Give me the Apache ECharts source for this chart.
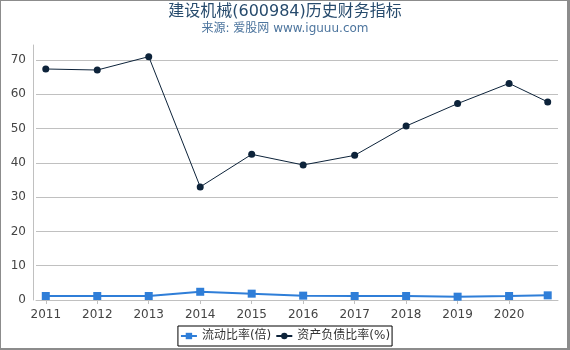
<!DOCTYPE html>
<html>
<head>
<meta charset="utf-8">
<script src="https://cdn.jsdelivr.net/npm/echarts@6/dist/echarts.min.js"></script>
<style>
html,body{margin:0;padding:0;background:#fff;}
#chart{position:absolute;left:0;top:0;width:570px;height:350px;}
#frame{position:absolute;left:0;top:0;width:570px;height:350px;box-sizing:border-box;
  border-top:1px solid #8c8c8c;border-left:1px solid #8c8c8c;border-right:3px solid #8c8c8c;border-bottom:2px solid #8c8c8c;pointer-events:none;}
</style>
</head>
<body>
<div id="chart"></div>
<div id="frame"></div>
<script>
const titleText = '建设机械(600984)历史财务指标';
const subtitleText = '来源: 爱股网 www.iguuu.com';
const seriesNames = ['流动比率(倍)', '资产负债比率(%)'];
// x positions: years, last point is 2021 Q3 (placed 3/4 of a year after 2020)
const xValues = [2011, 2012, 2013, 2014, 2015, 2016, 2017, 2018, 2019, 2020, 2020.75];
const currentRatio = [1.17, 1.17, 1.17, 2.4, 1.85, 1.27, 1.17, 1.17, 0.97, 1.17, 1.36];
const debtRatio = [67.4, 67.1, 71.0, 33.0, 42.5, 39.4, 42.2, 50.75, 57.3, 63.2, 57.8];
const xTickLabels = [2011, 2012, 2013, 2014, 2015, 2016, 2017, 2018, 2019, 2020];
const yTickLabels = [0, 10, 20, 30, 40, 50, 60, 70];

const font = '"DejaVu Sans", "Noto Sans CJK SC", sans-serif';
const pairs = (vals) => xValues.map((x, i) => [x, vals[i]]);

const chart = echarts.init(document.getElementById('chart'), null, {renderer: 'canvas'});
chart.setOption({
  animation: false,
  backgroundColor: '#ffffff',
  title: [
    {text: titleText, left: 'center', top: 4, padding: 0,
     textStyle: {color: '#274b6d', fontSize: 16, fontWeight: 'normal', fontFamily: font}},
    {text: subtitleText, left: 'center', top: 23, padding: 0,
     textStyle: {color: '#4d759e', fontSize: 12, fontWeight: 'normal', fontFamily: font}}
  ],
  legend: {
    data: seriesNames,
    left: 'center', top: 326,
    padding: [4, 2], itemGap: 4, itemWidth: 16, itemHeight: 8,
    borderColor: '#000', borderWidth: 1, borderRadius: 0,
    textStyle: {color: '#333', fontSize: 12, fontFamily: font}
  },
  grid: {left: 36, right: 12, top: 45, bottom: 50, containLabel: false},
  xAxis: {
    type: 'value', min: 2010.81, max: 2020.95, offset: 4,
    minInterval: 1, maxInterval: 1,
    axisLine: {show: true, lineStyle: {color: '#c0c0c0', width: 1}},
    axisTick: {show: true, length: 4, lineStyle: {color: '#c0c0c0'}, customValues: xTickLabels},
    axisLabel: {color: '#444', fontSize: 12, fontFamily: font, margin: 5,
      customValues: xTickLabels,
      formatter: (v) => String(Math.round(v))},
    splitLine: {show: false}
  },
  yAxis: {
    type: 'value', min: 0, max: 74.4, offset: 3,
    minInterval: 10, maxInterval: 10, splitNumber: 7,
    axisLine: {show: true, lineStyle: {color: '#c0c0c0', width: 1}},
    axisTick: {show: false},
    axisLabel: {color: '#444', fontSize: 12, fontFamily: font, margin: 7,
      showMinLabel: true, showMaxLabel: false,
      formatter: (v) => (yTickLabels.indexOf(v) >= 0 ? String(v) : '')},
    splitLine: {show: true, showMinLine: false, showMaxLine: false,
      lineStyle: {color: '#c0c0c0', width: 1}}
  },
  series: [
    {name: seriesNames[0], type: 'line', data: pairs(currentRatio),
     symbol: 'rect', symbolSize: 8, showAllSymbol: true,
     itemStyle: {color: '#2f7ed8'}, lineStyle: {color: '#2f7ed8', width: 2}, z: 3},
    {name: seriesNames[1], type: 'line', data: pairs(debtRatio),
     symbol: 'circle', symbolSize: 7, showAllSymbol: true,
     itemStyle: {color: '#0d233a'}, lineStyle: {color: '#0d233a', width: 1}, z: 2}
  ]
});
</script>
</body>
</html>
